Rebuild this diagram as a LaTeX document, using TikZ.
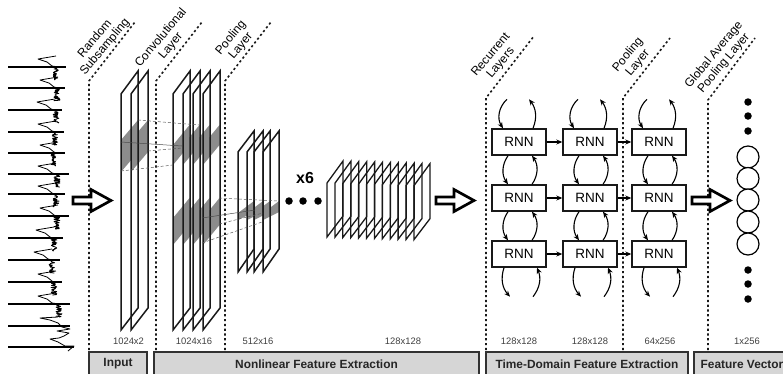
\documentclass[tikz,border=0pt]{standalone}
\usepackage{fontspec}
\setmainfont{Liberation Sans}
\usetikzlibrary{arrows.meta,positioning,calc}
\definecolor{cnnpatch}{RGB}{140,140,140}
\definecolor{cnnbar}{RGB}{214,214,214}
\definecolor{cnnedge}{RGB}{50,50,50}

\begin{document}
\begin{tikzpicture}[x=1pt,y=-1pt,
    plane/.style={line width=1.5pt, black!90, line join=miter},
    patch/.style={fill=cnnpatch, draw=none},
    link/.style={densely dashed, line width=0.5pt, black!65},
    stage/.style={line width=1.6pt, black!90, dash pattern=on 2.2pt off 2.6pt},
    bigarrow/.style={line width=2.7pt, black, fill=white, line join=miter},
    rnn/.style={rectangle, draw=black!90, line width=1.4pt, fill=white, minimum width=54pt,
      minimum height=26pt, inner sep=0pt, font=\fontsize{13.5}{14}\selectfont},
    arr/.style={-{Stealth[length=6pt,width=5pt]}, line width=1.1pt, black},
    unit/.style={circle, draw=black, line width=1.2pt, fill=white, minimum size=22pt, inner sep=0pt},
    dot/.style={circle, fill=black, minimum size=7.5pt, inner sep=0pt},
    dims/.style={font=\fontsize{9.4}{10}\selectfont, text=black!75},
    layertag/.style={rotate=50, align=center, font=\fontsize{12}{13}\selectfont},
    bar/.style={rectangle, draw=cnnedge, line width=1.5pt, fill=cnnbar, minimum height=24pt,
      inner sep=0pt, font=\fontsize{11.9}{13}\selectfont\bfseries, text=black!85}
  ]
    \useasboundingbox (0,0) rectangle (783,373);

    % Input signal
    \pgfmathsetseed{11}
    \foreach \yy/\xs/\xc/\xe in {67/38/53/66, 88/40/54/65, 110/37/53/62, 132/38/52/64, 153/40/51/65, 174/38/54/69,
        194/38/53/65, 216/40/54/69, 238/36/51/63, 260/34/49/60, 282/38/51/62, 304/38/56/70} {
      \draw[line width=1.3pt] (8,\yy) -- (\xe,\yy);
      \draw[line width=0.8pt, line join=round] (\xs+18,\yy-11) -- (\xs,\yy-8) -- (\xs+9,\yy-5) -- (\xs+14,\yy-1)
        -- plot[domain=0:13,samples=34] ({\xc+6*rnd},{\yy+\x});
    }
    \draw[line width=1.3pt] (8,326) -- (70,326);
    \draw[line width=1.3pt] (8,347) -- (74,347);
    \draw[line width=0.8pt, line join=round] (58,317) -- (40,318) -- (50,320) -- (58,323) -- (62,327) -- (70,329)
      -- (57,331) -- (69,333) -- (64,336) -- (59,338) -- (50,339) -- (58,342) -- (65,346) -- (74,346) -- (68,351);

    % Stage boundaries
    \foreach \xa/\ya/\xb/\yb in {89/81/135/22, 156/81/202/22, 225/81/271/22, 486/98/534/36, 623/98/670/38, 708/100/755/38}
      \draw[stage] (\xa,350) -- (\xa,\ya) -- (\xb,\yb);

    % Shaded receptive fields
    \foreach \px in {121,131}
      \fill[patch] (\px,140) -- ++(17,-20) -- ++(0,32) -- ++(-17,20) -- cycle;
    \foreach \px in {173,183,193,203} {
      \fill[patch] (\px,145) -- ++(16.5,-20) -- ++(0,20) -- ++(-16.5,20) -- cycle;
      \fill[patch] (\px,218) -- ++(16.5,-20) -- ++(0,27) -- ++(-16.5,20) -- cycle;
    }
    \foreach \px in {238,247,254,263}
      \fill[patch] (\px,213) -- ++(16,-12) -- ++(0,11) -- ++(-16,8) -- cycle;

    % Feature maps
    \foreach \px in {121,131,173,183,193,203}
      \draw[plane] (\px,94) -- ++(17,-23) -- ++(0,237) -- ++(-17,22) -- cycle;
    \foreach \px in {238,247,254,263}
      \draw[plane] (\px,152) -- ++(16,-21) -- ++(0,118) -- ++(-16,23) -- cycle;
    \foreach \i in {0,...,11}
      \draw[plane, line width=1.3pt] ({327+7.9*\i},{183+0.25*\i}) -- ++(16,-22) -- ++(0,55) -- ++(-16,21) -- cycle;

    % Projections between maps
    \draw[link] (138,120) -- (199,125);
    \draw[link, solid, black!70] (121,142) -- (182,146);
    \draw[link] (148,151) -- (182,148);
    \draw[link] (121,171) -- (173,165);
    \draw[link] (219,198) -- (278,201);
    \draw[link, solid, black!70] (202,218) -- (255,210);
    \draw[link] (219,224) -- (263,213);
    \draw[link] (202,243) -- (262,222);

    % Block arrows
    \foreach \ax in {73,436,692}
      \draw[bigarrow, shift={(\ax,0)}] (0,197) -- (18,197) -- (18,189.5) -- (38,200.5) -- (18,211.5) -- (18,204) -- (0,204) -- cycle;

    % Repeat marks
    \node[font=\fontsize{16}{17}\selectfont\bfseries] (rep) at (305,178) {x6};
    \node[dot] (d1) at (289,201) {};
    \node[dot] (d2) at (303,201) {};
    \node[dot] (d3) at (318,201) {};

    % Recurrent grid
    \foreach \c/\cx in {1/519,2/590,3/659}
      \foreach \r/\ry in {1/142,2/198,3/254}
        \node[rnn] (r\r\c) at (\cx,\ry) {RNN};
    \foreach \r in {1,2,3} {
      \draw[arr] (r\r1) -- (r\r2);
      \draw[arr] (r\r2) -- (r\r3);
    }
    \foreach \c in {1,2,3} {
      \coordinate (ti\c) at ($(r1\c.north)+(-12,-29)$);
      \coordinate (to\c) at ($(r1\c.north)+(10,-29)$);
      \coordinate (bo\c) at ($(r3\c.south)+(-9,29)$);
      \coordinate (bi\c) at ($(r3\c.south)+(14,29)$);
      \draw[arr] (ti\c) to[bend right=40] ($(r1\c.north)+(-16,0)$);
      \draw[arr] ($(r1\c.north)+(14,0)$) to[bend right=30] (to\c);
      \draw[arr] ($(r3\c.south)+(-15,0)$) to[bend right=30] (bo\c);
      \draw[arr] (bi\c) to[bend right=30] ($(r3\c.south)+(18,0)$);
      \foreach \ra/\rb in {1/2,2/3} {
        \draw[arr] ($(r\ra\c.south)+(-11,0)$) to[bend right=35] ($(r\rb\c.north)+(-11,0)$);
        \draw[arr] ($(r\rb\c.north)+(13,0)$) to[bend right=35] ($(r\ra\c.south)+(13,0)$);
      }
    }

    % Feature vector
    \foreach \n/\vy in {1/157,2/178.5,3/200,4/222,5/244}
      \node[unit] (u\n) at (748,\vy) {};
    \foreach \n/\vy in {1/102,2/116,3/131,4/270,5/284,6/299}
      \node[dot] (v\n) at (748,\vy) {};

    % Layer names
    \node[layertag] (t1) at (100,43) {Random\\Subsampling};
    \node[layertag] (t2) at (166,42) {Convolutional\\Layer};
    \node[layertag] (t3) at (236,42) {Pooling\\Layer};
    \node[layertag] (t4) at (496,59) {Recurrent\\Layers};
    \node[layertag] (t5) at (633,59) {Pooling\\Layer};
    \node[layertag] (t6) at (719,59) {Global Average\\Pooling Layer};

    % Tensor sizes
    \node[dims] (s1) at (128.5,341) {1024x2};
    \node[dims] (s2) at (194,341) {1024x16};
    \node[dims] (s3) at (258,341) {512x16};
    \node[dims] (s4) at (403,341) {128x128};
    \node[dims] (s5) at (519,341) {128x128};
    \node[dims] (s6) at (590,341) {128x128};
    \node[dims] (s7) at (660,341) {64x256};
    \node[dims] (s8) at (747,341) {1x256};

    % Stage bars
    \node[bar, minimum width=58pt] (b1) at (118,364) {Input};
    \node[bar, minimum width=325pt] (b2) at (316.5,364) {Nonlinear Feature Extraction};
    \node[bar, minimum width=202pt] (b3) at (587,364) {Time-Domain Feature Extraction};
    \node[bar, minimum width=96pt] (b4) at (742,364) {Feature Vector};
\end{tikzpicture}
\end{document}
